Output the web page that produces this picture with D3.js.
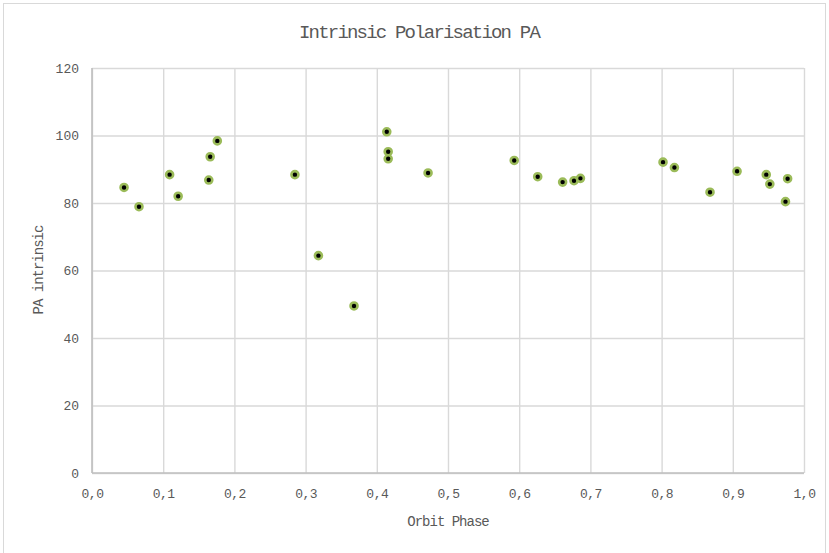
<!DOCTYPE html>
<html>
<head>
<meta charset="utf-8">
<script src="https://cdn.jsdelivr.net/npm/d3@7"></script>
<style>
  html, body { margin: 0; padding: 0; background: #fff; }
  svg { display: block; }
  text { font-family: "Liberation Mono", monospace; fill: #595959; }
</style>
</head>
<body>
<svg id="chart" width="829" height="553"></svg>
<script>
/* ── Data ─────────────────────────────────────────────────────────────────── */

const PHASE = [
  0.045, 0.066, 0.109, 0.121, 0.164, 0.166, 0.176, 0.285, 0.318, 0.368,
  0.414, 0.416, 0.416, 0.472, 0.593, 0.626, 0.661, 0.677, 0.686,
  0.802, 0.818, 0.868, 0.906, 0.947, 0.952, 0.977, 0.974,
];
const PA = [
  84.6, 78.9, 88.4, 82.0, 86.8, 93.7, 98.4, 88.4, 64.4, 49.5,
  101.1, 95.2, 93.1, 88.9, 92.6, 87.8, 86.2, 86.6, 87.3,
  92.1, 90.5, 83.2, 89.4, 88.4, 85.6, 87.2, 80.4,
];

const X_TICKS = [0, 0.1, 0.2, 0.3, 0.4, 0.5, 0.6, 0.7, 0.8, 0.9, 1.0];
const X_TICK_LABELS = ["0,0", "0,1", "0,2", "0,3", "0,4", "0,5", "0,6", "0,7", "0,8", "0,9", "1,0"];
const Y_TICKS = [0, 20, 40, 60, 80, 100, 120];

/* ── Layout ───────────────────────────────────────────────────────────────── */

const svg = d3.select("#chart");
const m = { left: 92, right: 25, top: 68, bottom: 80 };
const W = 829 - m.left - m.right;
const H = 553 - m.top - m.bottom;

// chart area border
svg.append("rect")
  .attr("x", 3.5).attr("y", 3.5)
  .attr("width", 822).attr("height", 570)
  .attr("fill", "none")
  .attr("stroke", "#d9d9d9")
  .attr("stroke-width", 1);

const g = svg.append("g").attr("transform", `translate(${m.left},${m.top})`);

const x = d3.scaleLinear().domain([0, 1]).range([0, W]);
const y = d3.scaleLinear().domain([0, 120]).range([H, 0]);

// gridlines
g.append("g")
  .call(d3.axisBottom(x).tickValues(X_TICKS).tickSize(H).tickFormat(""))
  .call((s) => s.select(".domain").remove())
  .call((s) => s.selectAll("line").attr("stroke", "#d9d9d9").attr("stroke-width", 1.4));

g.append("g")
  .call(d3.axisLeft(y).tickValues(Y_TICKS).tickSize(-W).tickFormat(""))
  .call((s) => s.select(".domain").remove())
  .call((s) => s.selectAll("line").attr("stroke", "#d9d9d9").attr("stroke-width", 1.4));

// axis lines
g.append("line")
  .attr("x1", 0).attr("x2", 0).attr("y1", 0).attr("y2", H)
  .attr("stroke", "#bfbfbf").attr("stroke-width", 1.6);
g.append("line")
  .attr("x1", 0).attr("x2", W).attr("y1", H).attr("y2", H)
  .attr("stroke", "#bfbfbf").attr("stroke-width", 1.6);

// tick labels
const xAxis = g.append("g")
  .attr("transform", `translate(0,${H})`)
  .call(d3.axisBottom(x).tickValues(X_TICKS).tickSize(0).tickPadding(16)
    .tickFormat((d, i) => X_TICK_LABELS[i]));
xAxis.select(".domain").remove();
xAxis.selectAll("text")
  .attr("font-family", "Liberation Mono, monospace")
  .attr("font-size", 13)
  .attr("letter-spacing", "-0.5px")
  .attr("fill", "#595959");

const yAxis = g.append("g")
  .call(d3.axisLeft(y).tickValues(Y_TICKS).tickSize(0).tickPadding(13));
yAxis.select(".domain").remove();
yAxis.selectAll("text")
  .attr("font-family", "Liberation Mono, monospace")
  .attr("font-size", 13)
  .attr("fill", "#595959");

// titles
svg.append("text")
  .attr("x", 419).attr("y", 38)
  .attr("text-anchor", "middle")
  .attr("font-size", 19)
  .attr("letter-spacing", "-1.8px")
  .text("Intrinsic Polarisation PA");

svg.append("text")
  .attr("x", m.left + W / 2).attr("y", 526)
  .attr("text-anchor", "middle")
  .attr("font-size", 14)
  .attr("letter-spacing", "-1px")
  .text("Orbit Phase");

svg.append("text")
  .attr("transform", "rotate(-90)")
  .attr("x", -270).attr("y", 43)
  .attr("text-anchor", "middle")
  .attr("font-size", 14)
  .attr("letter-spacing", "-1px")
  .text("PA intrinsic");

// markers
g.selectAll("circle.pt")
  .data(PHASE.map((p, i) => ({ p, v: PA[i] })))
  .join("circle")
  .attr("class", "pt")
  .attr("cx", (d) => x(d.p))
  .attr("cy", (d) => y(d.v))
  .attr("r", 3.5)
  .attr("fill", "#000")
  .attr("stroke", "#9bbb59")
  .attr("stroke-width", 2.6);
</script>
</body>
</html>
